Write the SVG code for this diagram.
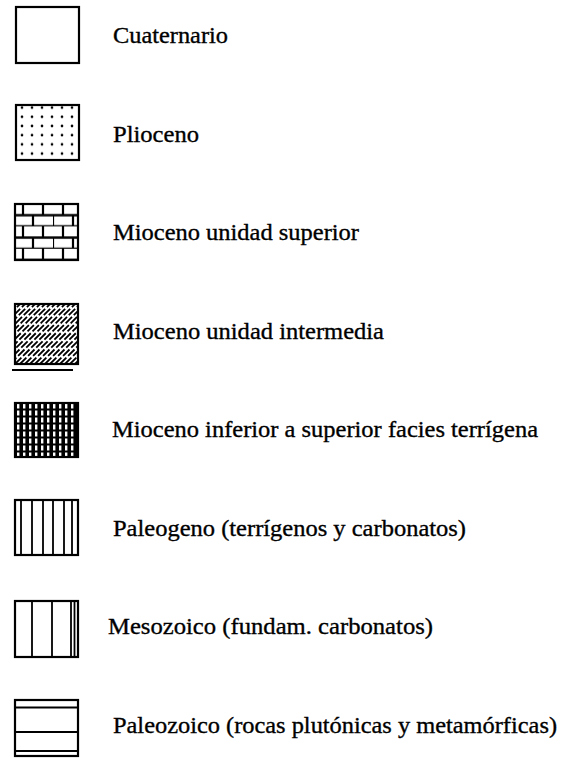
<svg xmlns="http://www.w3.org/2000/svg" width="563" height="759" viewBox="0 0 563 759">
<style>
.box{fill:none;stroke:#000;stroke-width:2.2}
.ln{stroke:#000;stroke-width:1.8;fill:none}
.lbl{font-family:"Liberation Serif","Times New Roman",serif;font-size:24px;fill:#000;stroke:#000;stroke-width:0.35}
</style>
<defs>
<pattern id="dots" patternUnits="userSpaceOnUse" x="17" y="103" width="10" height="9.2">
<circle cx="5" cy="4.6" r="1.3" fill="#000"/>
</pattern>
<pattern id="brick" patternUnits="userSpaceOnUse" x="13" y="204" width="40" height="22.4">
<path d="M0 11.2H40M0 22.4H40M10 0V11.2M30 0V11.2M0 11.2V22.4M20 11.2V22.4" stroke="#000" stroke-width="2.2" fill="none"/>
</pattern>
<pattern id="vdense" patternUnits="userSpaceOnUse" x="15" y="403" width="6" height="7">
<rect width="6" height="7" fill="#000"/>
<rect x="2" y="0.5" width="2.4" height="5" fill="#fff"/>
</pattern>
<clipPath id="c4"><rect x="15" y="304" width="63" height="60"/></clipPath>
</defs>
<g id="connectors"/>
<g id="n1">
<rect class="box" x="16" y="7" width="63" height="56"/>
<text class="lbl" x="113" y="43" textLength="115" lengthAdjust="spacingAndGlyphs">Cuaternario</text>
</g>
<g id="n2">
<rect x="16" y="105" width="63" height="55" fill="url(#dots)"/>
<rect class="box" x="16" y="105" width="63" height="55"/>
<text class="lbl" x="113" y="141.5" textLength="86" lengthAdjust="spacingAndGlyphs">Plioceno</text>
</g>
<g id="n3">
<rect x="15" y="204" width="63" height="56" fill="url(#brick)"/>
<rect class="box" x="15" y="204" width="63" height="56"/>
<text class="lbl" x="113" y="240" textLength="246" lengthAdjust="spacingAndGlyphs">Mioceno unidad superior</text>
</g>
<g id="n4">
<path clip-path="url(#c4)" stroke="#000" stroke-width="1.8" stroke-dasharray="9 2.5" fill="none" d="M-45 364l64 -64M-40 364l64 -64M-35 364l64 -64M-30 364l64 -64M-25 364l64 -64M-20 364l64 -64M-15 364l64 -64M-10 364l64 -64M-5 364l64 -64M0 364l64 -64M5 364l64 -64M10 364l64 -64M15 364l64 -64M20 364l64 -64M25 364l64 -64M30 364l64 -64M35 364l64 -64M40 364l64 -64M45 364l64 -64M50 364l64 -64M55 364l64 -64M60 364l64 -64M65 364l64 -64M70 364l64 -64M75 364l64 -64"/>
<rect class="box" x="15" y="304" width="63" height="60"/>
<line class="ln" x1="12" y1="370" x2="73" y2="370" stroke-width="2"/>
<text class="lbl" x="113" y="338.5" textLength="271" lengthAdjust="spacingAndGlyphs">Mioceno unidad intermedia</text>
</g>
<g id="n5">
<rect x="15" y="403" width="63" height="54" fill="url(#vdense)"/>
<rect class="box" x="15" y="403" width="63" height="54"/>
<text class="lbl" x="112" y="437" textLength="426" lengthAdjust="spacingAndGlyphs">Mioceno inferior a superior facies terrígena</text>
</g>
<g id="n6">
<rect class="box" x="15" y="500" width="63" height="55"/>
<path class="ln" d="M21 500V555M32 500V555M43 500V555M53 500V555M64 500V555M72 500V555"/>
<text class="lbl" x="113" y="535.5" textLength="353" lengthAdjust="spacingAndGlyphs">Paleogeno (terrígenos y carbonatos)</text>
</g>
<g id="n7">
<rect class="box" x="15" y="601" width="63" height="56"/>
<path class="ln" d="M32 601V657M52 601V657M71 601V657"/>
<path class="ln" d="M74.5 601V657" stroke-width="1.2"/>
<text class="lbl" x="108" y="634" textLength="325" lengthAdjust="spacingAndGlyphs">Mesozoico (fundam. carbonatos)</text>
</g>
<g id="n8">
<rect class="box" x="15" y="700" width="63" height="56"/>
<path class="ln" d="M15 707.5H78M15 732H78M15 751H78"/>
<text class="lbl" x="113" y="732.5" textLength="444" lengthAdjust="spacingAndGlyphs">Paleozoico (rocas plutónicas y metamórficas)</text>
</g>
</svg>
